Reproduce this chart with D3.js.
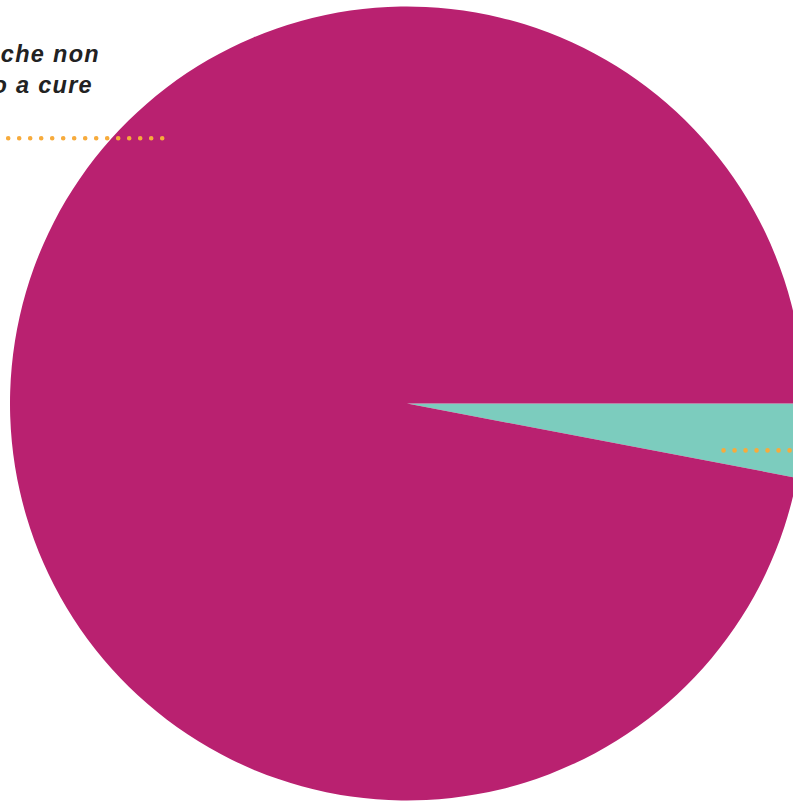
<!DOCTYPE html>
<html>
<head>
<meta charset="utf-8">
<script src="https://cdn.jsdelivr.net/npm/d3@7"></script>
<style>
  html, body { margin: 0; padding: 0; background: #fff; overflow: hidden; }
  svg { display: block; }
</style>
</head>
<body>
<svg id="chart"></svg>
<script>
// slice data (percent)
const categories = ["Accesso a cure", "Persone che non hanno accesso a cure"];
const values = [3, 97];
const colors = ["#7CCCBE", "#B92170"];

// label lines for the big slice (cut off by the frame, as in the original)
const labelLines = ["Persone che non", "hanno accesso a cure"];

var width = 793;
var height = 803;

var svg = d3.select("#chart")
  .attr("width", width)
  .attr("height", height);

var cx = 407, cy = 403.5, radius = 397;

var g = svg.append("g")
  .attr("transform", "translate(" + cx + "," + cy + ")");

var pie = d3.pie()
  .sort(null)
  .startAngle(Math.PI / 2)
  .endAngle(Math.PI / 2 + 2 * Math.PI)
  .value(function (d) { return d; });

var arc = d3.arc().innerRadius(0).outerRadius(radius);

var arcs = pie(values);

g.selectAll("path.slice")
  .data(arcs)
  .enter()
  .append("path")
  .attr("class", "slice")
  .attr("d", arc)
  .attr("fill", function (d, i) { return colors[i]; });

// leader lines: where in each slice they start (angle share, radius) and which way they run
const leaderPos = [
  { t: 0.78, r: 320, dir: 1 },
  { t: 0.62, r: 361, dir: -1 }
];

arcs.forEach(function (d, i) {
  var p = leaderPos[i];
  var a = d.startAngle + (d.endAngle - d.startAngle) * p.t;
  var x = Math.sin(a) * p.r;
  var y = -Math.cos(a) * p.r;
  var xEnd = p.dir > 0 ? width - cx + 20 : -cx - 20;
  g.append("line")
    .attr("x1", x).attr("y1", y)
    .attr("x2", xEnd).attr("y2", y)
    .attr("stroke", "#F7AB3C")
    .attr("stroke-width", 4.6)
    .attr("stroke-linecap", "round")
    .attr("stroke-dasharray", "0 11");
});

// label for the big slice
var label = svg.append("text")
  .attr("font-family", "Liberation Sans, Arial, sans-serif")
  .attr("font-size", 23.5)
  .attr("font-weight", "bold")
  .attr("font-style", "italic")
  .attr("letter-spacing", 1.3)
  .attr("fill", "#222");

label.append("tspan")
  .attr("x", 100).attr("y", 62)
  .attr("text-anchor", "end")
  .text(labelLines[0]);
label.append("tspan")
  .attr("x", 93).attr("y", 93)
  .attr("text-anchor", "end")
  .text(labelLines[1]);
</script>
</body>
</html>
